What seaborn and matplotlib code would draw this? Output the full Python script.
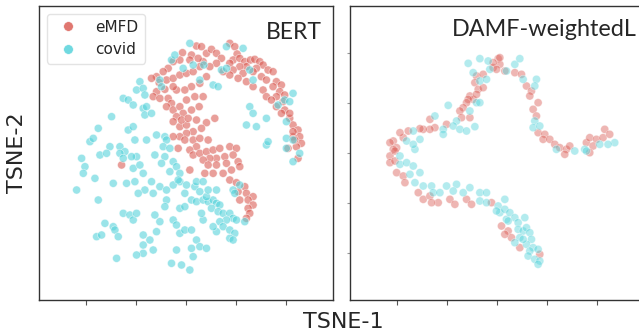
import matplotlib
matplotlib.use("Agg")
import matplotlib.pyplot as plt
from matplotlib.ticker import MultipleLocator
import pandas as pd
import seaborn as sns

# t-SNE coordinates (arbitrary units)
bert_emfd = [
    (-1.0, 30.1), (1.7, 29.4), (3.2, 32.1), (4.7, 31.9), (6.2, 29.9), (7.7, 31.1), (9.2, 29.9),
    (10.7, 28.4), (13.2, 32.9), (14.7, 31.9), (15.4, 29.7), (14.2, 27.9), (13.2, 26.9), (16.2, 28.4),
    (17.7, 27.4), (19.4, 27.9), (20.7, 28.1), (22.2, 27.4), (23.2, 26.4), (24.7, 24.9), (26.2, 24.4),
    (21.2, 25.4), (18.2, 25.9), (16.2, 25.9), (14.2, 24.9), (17.2, 23.9), (20.2, 24.4), (22.7, 22.9),
    (24.2, 21.9), (27.2, 21.4), (28.7, 20.4), (26.2, 19.9), (23.2, 18.9), (20.2, 19.9), (18.2, 21.4),
    (15.7, 22.4), (13.2, 23.4), (11.2, 24.4), (9.2, 26.9), (7.2, 25.9), (5.2, 27.4), (3.7, 28.4),
    (1.2, 27.9), (-1.8, 27.9), (-3.8, 27.4), (-5.3, 25.4), (-6.8, 24.4), (-8.8, 22.9), (-10.3, 22.4),
    (-8.0, 21.1), (-5.8, 21.9), (-3.8, 22.4), (-1.8, 23.4), (0.2, 23.9), (2.2, 24.4), (4.2, 25.9),
    (6.2, 22.9), (4.2, 20.9), (1.7, 19.9), (-0.3, 18.9), (-2.8, 18.9), (-3.8, 19.9), (-6.3, 19.1),
    (-8.8, 18.4), (-9.8, 16.9), (-7.8, 16.4), (-5.3, 16.4), (-4.3, 14.9), (-5.8, 13.9), (-3.8, 12.9),
    (-1.8, 13.9), (0.2, 15.9), (2.7, 16.9), (5.2, 16.9), (4.0, 13.9), (1.7, 12.9), (-0.8, 11.9),
    (-2.8, 10.9), (-3.8, 9.4), (-1.8, 7.9), (0.2, 8.4), (-1.3, 9.9), (0.7, 10.4), (3.2, 9.9),
    (6.2, 9.1), (8.7, 10.4), (4.7, 7.4), (2.2, 6.4), (0.2, 5.9), (-1.8, 4.9), (-3.8, 4.9),
    (-0.3, 3.9), (2.2, 3.9), (4.2, 4.4), (6.7, 3.9), (3.2, 1.9), (1.2, 0.9), (2.2, -0.6),
    (4.2, -0.1), (6.2, 0.4), (8.2, 0.9), (10.2, 1.4), (13.2, 1.9), (15.2, 1.4), (14.2, -0.6),
    (11.7, -1.1), (9.2, -1.6), (7.2, -1.6), (5.2, -2.1), (6.7, -3.6), (9.2, -3.6), (12.2, -3.1),
    (15.7, -2.6), (16.2, -4.1), (13.7, -5.1), (11.2, -6.1), (8.2, -6.1), (5.7, -6.1), (1.2, -5.1),
    (13.2, -8.1), (15.2, -8.9), (17.7, -10.1), (15.7, -11.6), (18.2, -12.1), (20.2, -13.1),
    (18.7, -14.1), (16.2, -14.1), (20.2, -15.6), (18.7, -16.6), (19.2, -18.1), (18.2, -19.6),
    (-2.3, 1.4), (-19.3, -3.6), (28.2, 18.4), (29.7, 17.4), (27.2, 13.9), (29.7, 12.9), (31.2, 10.4),
    (32.2, 8.4), (33.7, 6.9), (34.2, 4.9), (32.2, 4.9), (34.7, 2.9), (33.2, 1.9), (30.7, 1.4),
    (33.7, -1.6), (32.2, 6.4), (29.2, 15.4), (27.2, 16.9), (24.2, 16.9), (25.7, 15.9), (31.2, 11.9),
    (28.7, 11.9), (32.7, 3.9),
]
bert_covid = [
    (1.2, 32.9), (12.2, 31.9), (17.2, 31.4), (-4.3, 27.9), (-3.3, 29.4), (5.4, 26.4), (-0.8, 25.4),
    (2.2, 26.4), (10.7, 24.9), (12.2, 25.4), (19.2, 24.9), (4.2, 21.9), (8.2, 20.4), (9.7, 19.9),
    (20.2, 21.9), (19.2, 13.9), (20.2, 11.9), (18.2, 8.4), (21.2, 7.9), (24.2, 10.4), (27.7, 14.4),
    (29.7, 15.9), (31.2, 15.4), (32.2, 17.9), (30.2, 9.4), (30.2, 4.4), (32.2, 3.9), (24.2, 2.4),
    (24.7, 3.4), (30.2, 1.4), (34.2, -0.1), (32.2, -2.6), (-13.8, 21.4), (-14.8, 18.9), (-12.8, 19.4),
    (-12.3, 17.4), (-7.8, 21.9), (-7.3, 19.9), (-18.8, 16.4), (-17.3, 15.9), (-15.8, 14.4),
    (-12.8, 13.4), (-11.8, 13.9), (-12.3, 11.4), (-10.3, 11.9), (-22.3, 10.9), (-26.3, 7.4),
    (-28.8, 3.4), (-27.8, 4.4), (-22.8, 1.9), (-19.8, 1.9), (-18.3, 0.4), (-17.3, 6.9), (-15.8, 7.9),
    (-15.3, 3.9), (-11.8, 3.9), (-14.8, -1.1), (-16.3, -1.1), (-8.8, 5.4), (-6.3, 4.9), (-5.8, 3.9),
    (-6.8, 1.9), (-4.8, 1.4), (-9.3, -0.6), (-6.3, -1.1), (-7.3, -3.1), (-3.8, -2.6), (-2.8, -4.1),
    (-4.8, -5.6), (-1.8, -6.1), (-1.8, -8.6), (0.2, -9.6), (-0.3, -12.1), (2.7, -10.1), (3.2, -8.6),
    (5.2, -8.6), (4.2, -11.6), (1.7, -14.1), (3.2, -14.6), (5.2, -14.1), (6.7, -14.6), (8.2, -14.1),
    (6.2, -13.1), (9.2, -15.1), (10.2, -15.6), (7.7, -16.6), (9.7, -17.6), (11.2, -18.1),
    (13.2, -18.1), (14.2, -19.6), (12.2, -20.1), (10.2, -20.6), (11.2, -22.1), (13.2, -23.1),
    (14.7, -24.1), (13.2, -25.6), (14.2, -26.1), (9.2, -23.6), (8.2, -22.1), (15.2, -20.1),
    (17.7, -20.6), (14.2, -11.1), (16.2, -9.6), (14.7, -12.1), (9.2, -11.1), (6.7, -11.1),
    (-31.3, -1.6), (-30.3, -4.1), (-25.8, -0.6), (-23.8, -0.1), (-19.8, -0.1), (-18.8, -1.6),
    (-15.8, -4.6), (-13.8, -3.6), (-12.8, -6.1), (-30.8, -6.1), (-27.3, -7.6), (-21.8, -9.1),
    (-17.8, -9.1), (-15.3, -8.6), (-12.3, -11.1), (-10.3, -8.6), (-7.8, -10.1), (-5.8, -11.1),
    (-3.8, -9.6), (-2.3, -8.1), (-32.8, -11.1), (-26.3, -14.1), (-14.3, -12.1), (-9.8, -12.1),
    (-5.8, -14.1), (-1.8, -16.6), (-0.3, -16.1), (-6.3, -16.1), (-18.8, -18.1), (-16.8, -18.6),
    (-15.8, -20.1), (-14.8, -18.1), (-9.3, -18.6), (-7.8, -20.6), (-3.8, -20.1), (-2.8, -21.6),
    (5.2, -20.1), (4.7, -18.1), (-24.3, -21.1), (-21.8, -22.1), (-21.3, -23.1), (-20.3, -25.1),
    (-26.8, -25.1), (-25.3, -24.6), (-12.8, -24.6), (-10.8, -26.1), (-8.8, -23.6), (-1.8, -24.1),
    (-0.3, -23.1), (1.7, -23.1), (3.2, -26.1), (-12.8, -27.6), (-9.8, -29.1), (-12.8, -30.1),
    (-14.8, -30.6), (-20.8, -31.6), (-2.8, -29.1), (1.7, -28.6), (2.2, -31.1), (4.2, -28.1),
    (6.2, -28.6), (-4.3, -33.1), (-1.3, -33.6), (1.2, -35.1),
]
damf_emfd = [
    (0.4, 28.3), (0.9, 26.6), (-1.1, 25.6), (2.4, 24.6), (-6.1, 23.1), (-4.1, 23.6), (-6.6, 21.1),
    (-5.6, 19.1), (-4.1, 19.6), (-8.1, 17.1), (-7.1, 16.1), (-8.6, 16.1), (-6.1, 17.6), (-9.1, 15.1),
    (-10.1, 13.6), (-11.1, 12.6), (-10.6, 10.6), (-8.1, 10.6), (-20.1, 10.1), (-15.1, 8.6),
    (-18.6, 7.6), (-20.1, 7.1), (-22.1, 7.1), (-23.1, 7.3), (-26.6, 6.6), (-28.1, 4.6), (-29.1, 6.1),
    (-31.1, 3.6), (-32.1, 3.1), (-30.1, 1.6), (-31.1, 1.1), (-32.1, -0.9), (-30.6, 0.6), (-32.1, -2.9),
    (-30.6, -2.4), (-30.1, -5.9), (-28.1, -6.9), (-27.6, -8.9), (-23.6, -11.9), (-22.1, -13.9),
    (-20.1, -12.9), (-17.6, -14.9), (-19.6, -14.9), (-14.1, -13.9), (-12.6, -15.4), (-9.1, -13.9),
    (-7.6, -15.4), (-1.6, -14.9), (1.4, -21.9), (3.4, -23.4), (4.4, -25.4), (2.4, -24.4),
    (6.9, -28.4), (12.9, -30.4), (0.9, 28.6), (-1.1, 27.1), (-0.1, 25.1), (5.4, 24.1), (7.4, 23.6),
    (8.9, 20.1), (10.4, 18.6), (9.9, 17.1), (12.4, 15.1), (10.9, 13.1), (11.9, 11.1), (12.4, 6.1),
    (14.4, 5.6), (13.9, 4.1), (15.9, 4.1), (17.4, 2.6), (18.9, 1.6), (20.9, 1.1), (20.4, -0.4),
    (21.9, 2.1), (26.9, 3.1), (27.9, 4.6), (29.9, 4.1), (31.9, 4.6), (32.4, 7.1), (33.9, 5.6),
    (28.9, 2.1), (27.9, 0.1),
]
damf_covid = [
    (-8.6, 26.9), (-5.1, 28.3), (-2.6, 27.6), (-2.1, 25.1), (-7.1, 24.1), (-5.1, 21.6), (-3.1, 22.1),
    (-6.1, 15.1), (-5.1, 15.1), (-8.1, 12.6), (-14.6, 14.3), (-18.6, 11.1), (-12.1, 9.6),
    (-13.1, 8.1), (-11.1, 7.1), (-9.1, 6.6), (-6.6, 7.9), (-16.1, 7.1), (-16.1, 5.6), (-25.1, 6.6),
    (-24.6, 1.1), (-23.1, 4.1), (-27.1, 3.6), (-25.1, 2.6), (-29.1, -0.9), (-29.1, -3.4),
    (-27.1, -2.9), (-25.1, -3.9), (-26.1, -6.4), (-23.1, -5.9), (-24.6, -8.9), (-22.1, -9.9),
    (-19.6, -9.9), (-19.1, -11.9), (-17.1, -11.9), (-15.1, -9.9), (-12.1, -9.4), (-13.1, -11.4),
    (-10.1, -11.9), (-8.1, -10.4), (-5.1, -11.9), (-3.1, -11.9), (-5.1, -14.4), (-3.1, -14.9),
    (0.4, -15.9), (2.4, -13.9), (0.9, -17.9), (2.9, -19.9), (-0.1, -17.4), (2.4, -16.9),
    (3.9, -17.9), (5.4, -19.4), (8.4, -19.4), (6.4, -20.9), (3.4, -20.4), (6.4, -22.9), (7.9, -23.4),
    (8.9, -22.4), (9.9, -23.9), (6.9, -25.4), (10.4, -25.9), (8.9, -27.4), (10.9, -28.4),
    (9.9, -29.4), (12.4, -28.9), (9.4, -30.9), (11.4, -31.9), (12.9, -32.4), (12.4, -33.4),
    (5.4, -26.9), (7.9, -25.9), (2.9, 24.6), (5.4, 26.6), (6.9, 28.3), (7.9, 22.1), (11.9, 22.1),
    (11.4, 20.1), (11.4, 9.6), (10.9, 7.6), (12.9, 8.1), (23.4, 0.6), (17.9, 1.1), (26.4, 1.1),
    (35.4, 3.1), (33.4, 2.6), (30.9, 2.6), (26.9, 0.6),
]
labels = ["eMFD", "covid"]


def make_frame(emfd, covid):
    rows = [(x, y, "eMFD") for x, y in emfd] + [(x, y, "covid") for x, y in covid]
    return pd.DataFrame(rows, columns=["x", "y", "label"])


sns.set_theme(style="ticks")
plt.rcParams["font.family"] = ["DejaVu Sans"]
plt.rcParams["axes.linewidth"] = 1.0
plt.rcParams["axes.edgecolor"] = "#333333"

palette = dict(zip(labels, sns.color_palette("hls", 2)))

fig = plt.figure(figsize=(6.39, 3.33), dpi=100)
ax1 = fig.add_axes([39 / 639, 33 / 333, 294 / 639, 294 / 333])
ax2 = fig.add_axes([350 / 639, 33 / 333, 294 / 639, 294 / 333])

sns.scatterplot(data=make_frame(bert_emfd, bert_covid), x="x", y="y", hue="label",
                hue_order=labels, palette=palette, s=34, alpha=0.6, linewidth=0.5,
                edgecolor="white", ax=ax1)
sns.scatterplot(data=make_frame(damf_emfd, damf_covid), x="x", y="y", hue="label",
                hue_order=labels, palette=palette, s=34, alpha=0.45, linewidth=0.5,
                edgecolor="white", ax=ax2, legend=False)

for ax in (ax1, ax2):
    ax.set_xlim(-44.1, 44.2)
    ax.set_ylim(-44.1, 44.1)
    ax.xaxis.set_major_locator(MultipleLocator(15))
    ax.yaxis.set_major_locator(MultipleLocator(15))
    ax.set_xticklabels([])
    ax.set_yticklabels([])
    ax.tick_params(length=3.5, width=0.8, color="#555555")
    ax.set_xlabel("")
    ax.set_ylabel("")
ax1.tick_params(axis="y", length=0)
ax2.tick_params(axis="y", length=2.5, color="#999999")

leg = ax1.legend(loc="upper left", fontsize=11, frameon=True, markerscale=1.2)
leg.get_frame().set_edgecolor("#dddddd")
for h in leg.legend_handles:
    h.set_alpha(0.85)

ax1.text(0.963, 0.888, "BERT", transform=ax1.transAxes, ha="right", va="baseline",
         fontsize=16.5, family=["Lato", "DejaVu Sans"])
ax2.text(0.345, 0.898, "DAMF-weightedL", transform=ax2.transAxes, ha="left",
         va="baseline", fontsize=16.8, family=["Lato", "DejaVu Sans"])

fig.text(0.027, 0.54, "TSNE-2", rotation=90, ha="center", va="center", fontsize=16)
fig.text(0.537, 0.033, "TSNE-1", ha="center", va="center", fontsize=16)

fig.savefig("out.png", dpi=100)
